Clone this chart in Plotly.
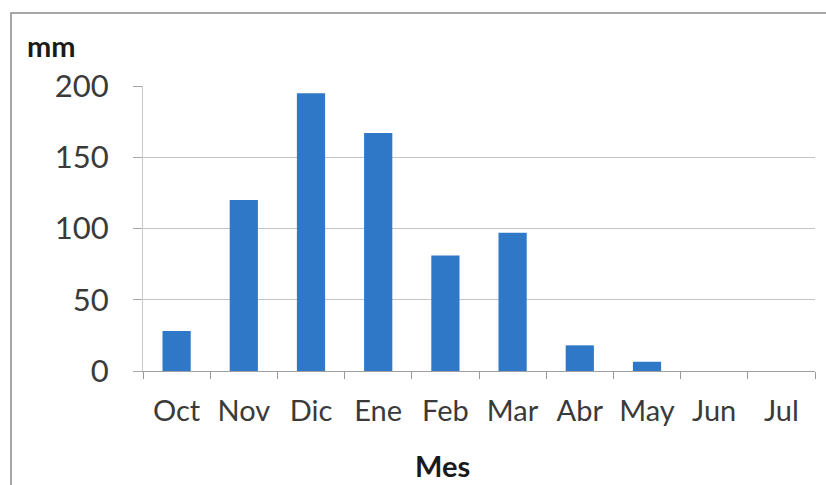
import plotly.graph_objects as go

# Monthly rainfall (mm), October to July
months = ["Oct", "Nov", "Dic", "Ene", "Feb", "Mar", "Abr", "May", "Jun", "Jul"]
rain_mm = [28, 120, 195, 167, 81, 97, 18, 6.5, 0, 0]
y_ticks = [0, 50, 100, 150, 200]

W, H = 826, 485
ML, MR, MT, MB = 143, 11, 86, 114
pw, ph = W - ML - MR, H - MT - MB


def px_x(p):
    return (p - ML) / pw


def px_y(p):
    return (H - MB - p) / ph


x_tick_font = dict(family="Lato, 'Open Sans', sans-serif", size=29, color="#3a3a3a")
y_tick_font = dict(family="Lato, 'Open Sans', sans-serif", size=31, color="#3a3a3a")
title_font = dict(family="Lato, 'Open Sans', sans-serif", size=29, color="#1a1a1a")

fig = go.Figure(
    go.Bar(
        x=months,
        y=rain_mm,
        marker=dict(color="#2F78C8", line=dict(width=0)),
        width=0.42,
    )
)

fig.update_layout(
    width=W,
    height=H,
    margin=dict(l=ML, r=MR, t=MT, b=MB, pad=0),
    paper_bgcolor="white",
    plot_bgcolor="white",
    showlegend=False,
    bargap=0.58,
    xaxis=dict(
        type="category",
        tickson="boundaries",
        ticks="outside",
        ticklen=7,
        tickcolor="#9a9a9a",
        showline=True,
        linecolor="#a0a0a0",
        linewidth=1,
        showgrid=False,
        tickfont=x_tick_font,
        ticklabelstandoff=14,
    ),
    yaxis=dict(
        range=[0, 200],
        tickvals=y_ticks,
        ticks="outside",
        ticklen=9,
        tickcolor="#a8a8a8",
        showline=True,
        linecolor="#c8c8c8",
        linewidth=1,
        gridcolor="#c4c4c4",
        gridwidth=1,
        zeroline=False,
        tickfont=y_tick_font,
        ticklabelstandoff=18,
    ),
    annotations=[
        dict(
            text="<b>mm</b>", xref="paper", yref="paper",
            x=px_x(25), y=px_y(45), xanchor="left", yanchor="middle",
            showarrow=False, font=title_font,
        ),
        dict(
            text="<b>Mes</b>", xref="paper", yref="paper",
            x=px_x(442), y=px_y(465), xanchor="center", yanchor="middle",
            showarrow=False, font=title_font,
        ),
    ],
    shapes=[
        # outer chart frame
        dict(
            type="rect", xref="paper", yref="paper",
            x0=px_x(11), x1=px_x(840), y0=px_y(500), y1=px_y(13),
            line=dict(color="#8c8c8c", width=1.5), layer="below",
        ),
    ],
)

fig.write_html("out.html")
